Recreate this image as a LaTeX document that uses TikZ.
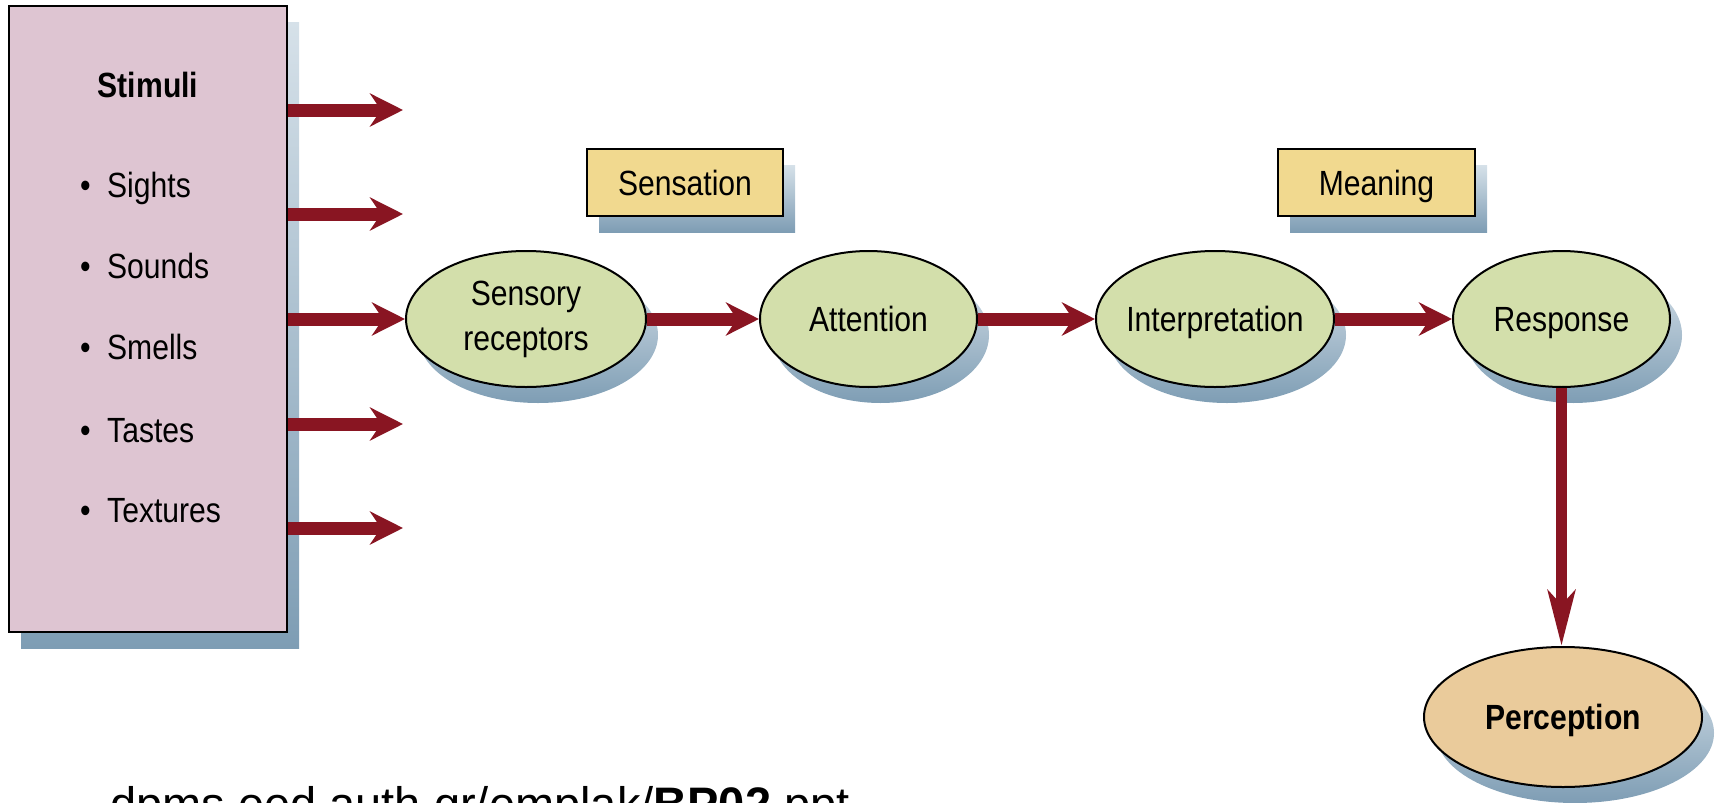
\documentclass[tikz,border=0pt]{standalone}
\usepackage{fontspec}
\setmainfont{Liberation Sans}[FakeStretch=0.86]
\newfontfamily\urlfont{Liberation Sans}
\usetikzlibrary{arrows.meta,shapes.geometric,shadows}
\definecolor{arrowred}{RGB}{137,21,34}
\definecolor{stimfill}{RGB}{222,197,210}
\definecolor{labfill}{RGB}{241,217,143}
\definecolor{ovalfill}{RGB}{211,223,171}
\definecolor{percfill}{RGB}{234,203,155}
\definecolor{shtop}{RGB}{214,225,233}
\definecolor{shbot}{RGB}{126,157,180}
\tikzset{
  shadowed/.style={general shadow={shadow xshift=12pt,shadow yshift=-16pt,top color=shtop,bottom color=shbot}},
  boxnode/.style={draw=black,line width=2pt,inner sep=0pt,shadowed},
  oval/.style={ellipse,draw=black,line width=2pt,fill=ovalfill,inner sep=0pt,minimum height=136pt,shadowed},
  oneline/.style={text height=25pt,text depth=0pt},
  bigarrow/.style={draw=arrowred,line width=13pt,-{Stealth[length=33pt,width=33pt,inset=11pt]}},
  downarrow/.style={draw=arrowred,line width=11pt,-{Stealth[length=55pt,width=27pt,inset=14pt]}},
  stimitem/.style={anchor=base west,inner sep=0pt},
}
\begin{document}
\begin{tikzpicture}[x=1pt,y=-1pt,every node/.style={font=\fontsize{35}{45}\selectfont}]
\useasboundingbox (0,0) rectangle (1717,803);
\clip (0,0) rectangle (1717,803);

% stimuli box
\node[boxnode,fill=stimfill,minimum width=278pt,minimum height=626pt] (stim) at (148,319) {};
\node[anchor=base,inner sep=0pt] (stimt) at (148,97) {\bfseries Stimuli};
\node[stimitem] (i1) at (80,197) {\makebox[27pt][l]{\textbullet}Sights};
\node[stimitem] (i2) at (80,278) {\makebox[27pt][l]{\textbullet}Sounds};
\node[stimitem] (i3) at (80,359) {\makebox[27pt][l]{\textbullet}Smells};
\node[stimitem] (i4) at (80,442) {\makebox[27pt][l]{\textbullet}Tastes};
\node[stimitem] (i5) at (80,522) {\makebox[27pt][l]{\textbullet}Textures};

% label boxes
\node[boxnode,fill=labfill,oneline,minimum width=196pt,minimum height=67pt] (sensation) at (685,182.5) {Sensation};
\node[boxnode,fill=labfill,oneline,minimum width=197pt,minimum height=67pt] (meaning) at (1376.5,182.5) {Meaning};

% ovals
\node[oval,minimum width=240pt] (sens) at (526,319) {\makebox[0pt]{\begin{tabular}{@{}c@{}}Sensory\\receptors\end{tabular}}};
\node[oval,oneline,minimum width=217pt] (att) at (868.5,319) {\makebox[0pt]{Attention}};
\node[oval,oneline,minimum width=238pt] (interp) at (1215,319) {\makebox[0pt]{Interpretation}};
\node[oval,oneline,minimum width=217pt] (resp) at (1561.5,319) {\makebox[0pt]{Response}};
\node[oval,oneline,fill=percfill,minimum width=278pt,minimum height=140pt] (perc) at (1563,717) {\makebox[0pt]{\bfseries Perception}};

% free arrow ends
\coordinate (t1) at (403,110);
\coordinate (t2) at (403,214);
\coordinate (t4) at (403,424);
\coordinate (t5) at (403,528);

\draw[bigarrow] (stim.east |- t1) -- (t1);
\draw[bigarrow] (stim.east |- t2) -- (t2);
\draw[bigarrow] (stim.east |- sens.west) -- (sens.west);
\draw[bigarrow] (stim.east |- t4) -- (t4);
\draw[bigarrow] (stim.east |- t5) -- (t5);

\draw[bigarrow] (sens.east) -- (att.west);
\draw[bigarrow] (att.east) -- (interp.west);
\draw[bigarrow] (interp.east) -- (resp.west);
\draw[downarrow] (resp.south) -- (resp.south |- perc.north);

% source line (cut off by the lower edge, as in the reference)
\node[anchor=base west,inner sep=0pt,font=\urlfont\fontsize{47}{50}\selectfont] (src) at (110,820) {dpms.eed.auth.gr/emplak/\textbf{BP02}.ppt};
\end{tikzpicture}
\end{document}
